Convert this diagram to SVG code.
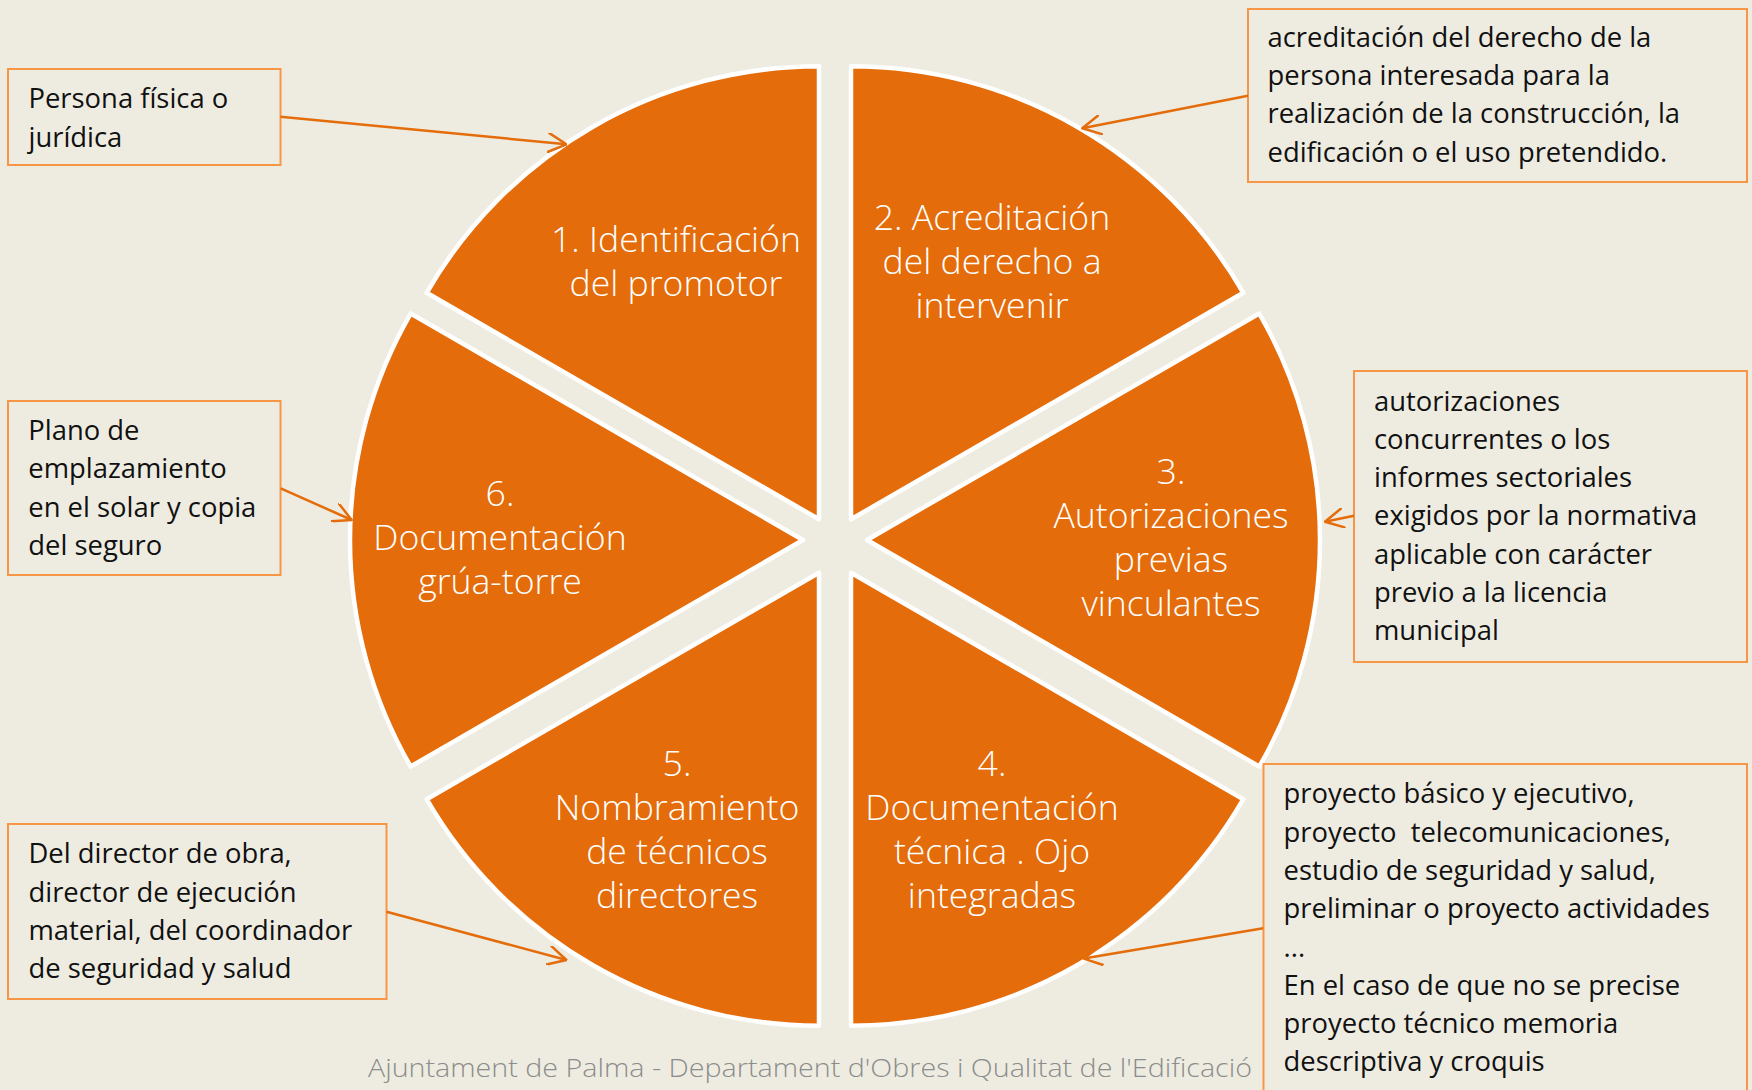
<svg xmlns="http://www.w3.org/2000/svg" width="1752" height="1090" viewBox="0 0 1752 1090">
<defs>
<style>
.seg{fill:#E46C0A;stroke:#FFFFFF;stroke-width:4.5;stroke-linejoin:round}
.lbl{font-family:"Open Sans","Liberation Sans",sans-serif;font-size:35.6px;font-weight:300;fill:#FFFFFF;text-anchor:middle}
.box{fill:#EEECE1;stroke:#F79646;stroke-width:2}
.note{font-family:"Open Sans","Liberation Sans",sans-serif;font-size:27.4px;fill:#111111;white-space:pre}
.conn{stroke:#E46C0A;stroke-width:2.5;fill:none;marker-end:url(#arr)}
.footer{font-family:"Open Sans","Liberation Sans",sans-serif;font-size:26px;font-weight:300;fill:#8C8C8C}
</style>
<marker id="arr" viewBox="0 0 20 20" refX="19" refY="10" markerWidth="20" markerHeight="20" markerUnits="userSpaceOnUse" orient="auto">
<path d="M1,0.5 L19,10 L1,19.5" fill="none" stroke="#E46C0A" stroke-width="2.5" stroke-linecap="round" stroke-linejoin="round"/>
</marker>
</defs>
<rect x="0" y="0" width="1752" height="1090" fill="#EEECE1"/>

<g id="seg1">
<path class="seg" d="M819,519.29 L426.69,292.79 A453,453 0 0 1 819,66.29 Z"/>
<text class="lbl" x="676" y="252">1. Identificación</text>
<text class="lbl" x="676" y="296">del promotor</text>
</g>
<g id="seg2">
<path class="seg" d="M851,519.29 L851,66.29 A453,453 0 0 1 1243.31,292.79 Z"/>
<text class="lbl" x="992" y="230">2. Acreditación</text>
<text class="lbl" x="992" y="274">del derecho a</text>
<text class="lbl" x="992" y="318">intervenir</text>
</g>
<g id="seg3">
<path class="seg" d="M867,540 L1259.31,313.5 A453,453 0 0 1 1259.31,766.5 Z"/>
<text class="lbl" x="1171" y="484">3.</text>
<text class="lbl" x="1171" y="528">Autorizaciones</text>
<text class="lbl" x="1171" y="572">previas</text>
<text class="lbl" x="1171" y="616">vinculantes</text>
</g>
<g id="seg4">
<path class="seg" d="M851,572.71 L1243.31,799.21 A453,453 0 0 1 851,1025.71 Z"/>
<text class="lbl" x="992" y="776">4.</text>
<text class="lbl" x="992" y="820">Documentación</text>
<text class="lbl" x="992" y="864">técnica . Ojo</text>
<text class="lbl" x="992" y="908">integradas</text>
</g>
<g id="seg5">
<path class="seg" d="M819,572.71 L819,1025.71 A453,453 0 0 1 426.69,799.21 Z"/>
<text class="lbl" x="677" y="776">5.</text>
<text class="lbl" x="677" y="820">Nombramiento</text>
<text class="lbl" x="677" y="864">de técnicos</text>
<text class="lbl" x="677" y="908">directores</text>
</g>
<g id="seg6">
<path class="seg" d="M803,540 L410.69,766.5 A453,453 0 0 1 410.69,313.5 Z"/>
<text class="lbl" x="500" y="506">6.</text>
<text class="lbl" x="500" y="550">Documentación</text>
<text class="lbl" x="500" y="594">grúa-torre</text>
</g>

<g id="noteA">
<rect class="box" x="8" y="69" width="272.5" height="96"/>
<text class="note" x="28.5" y="108">Persona física o</text>
<text class="note" x="28.5" y="146.5">jurídica</text>
</g>
<g id="noteB">
<rect class="box" x="1248" y="9" width="499" height="173"/>
<text class="note" x="1267.5" y="46.5">acreditación del derecho de la</text>
<text class="note" x="1267.5" y="85">persona interesada para la</text>
<text class="note" x="1267.5" y="123.3">realización de la construcción, la</text>
<text class="note" x="1267.5" y="161.6">edificación o el uso pretendido.</text>
</g>
<g id="noteC">
<rect class="box" x="1354" y="371" width="393" height="291"/>
<text class="note" x="1374" y="410.5">autorizaciones</text>
<text class="note" x="1374" y="448.8">concurrentes o los</text>
<text class="note" x="1374" y="487.1">informes sectoriales</text>
<text class="note" x="1374" y="525.4">exigidos por la normativa</text>
<text class="note" x="1374" y="563.7">aplicable con carácter</text>
<text class="note" x="1374" y="602">previo a la licencia</text>
<text class="note" x="1374" y="640.3">municipal</text>
</g>
<g id="noteD">
<rect class="box" x="8" y="401" width="272.5" height="174"/>
<text class="note" x="28.3" y="440">Plano de</text>
<text class="note" x="28.3" y="478.3">emplazamiento</text>
<text class="note" x="28.3" y="516.6">en el solar y copia</text>
<text class="note" x="28.3" y="554.9">del seguro</text>
</g>
<g id="noteE">
<rect class="box" x="8" y="824" width="378.5" height="175"/>
<text class="note" x="28.5" y="863.3">Del director de obra,</text>
<text class="note" x="28.5" y="901.6">director de ejecución</text>
<text class="note" x="28.5" y="939.9">material, del coordinador</text>
<text class="note" x="28.5" y="978.2">de seguridad y salud</text>
</g>
<g id="noteF">
<rect class="box" x="1263.5" y="764" width="483.5" height="340"/>
<text class="note" x="1283.6" y="803.3">proyecto básico y ejecutivo,</text>
<text class="note" x="1283.6" y="841.6">proyecto  telecomunicaciones,</text>
<text class="note" x="1283.6" y="879.9">estudio de seguridad y salud,</text>
<text class="note" x="1283.6" y="918.2">preliminar o proyecto actividades</text>
<text class="note" x="1283.6" y="956.5">...</text>
<text class="note" x="1283.6" y="994.8">En el caso de que no se precise</text>
<text class="note" x="1283.6" y="1033.1">proyecto técnico memoria</text>
<text class="note" x="1283.6" y="1071.4">descriptiva y croquis</text>
</g>

<g id="connectors">
<line class="conn" x1="280.5" y1="116.7" x2="566.4" y2="144.3"/>
<line class="conn" x1="1248" y1="95.7" x2="1082.3" y2="128.3"/>
<line class="conn" x1="1354" y1="515.7" x2="1325" y2="521.7"/>
<line class="conn" x1="280.7" y1="488.3" x2="351.7" y2="520"/>
<line class="conn" x1="386.5" y1="911.7" x2="566.4" y2="960"/>
<line class="conn" x1="1263.2" y1="928.3" x2="1083.8" y2="958.6"/>
</g>

<text id="footer" class="footer" x="368" y="1077" textLength="884" lengthAdjust="spacingAndGlyphs">Ajuntament de Palma - Departament d'Obres i Qualitat de l'Edificació</text>
</svg>
